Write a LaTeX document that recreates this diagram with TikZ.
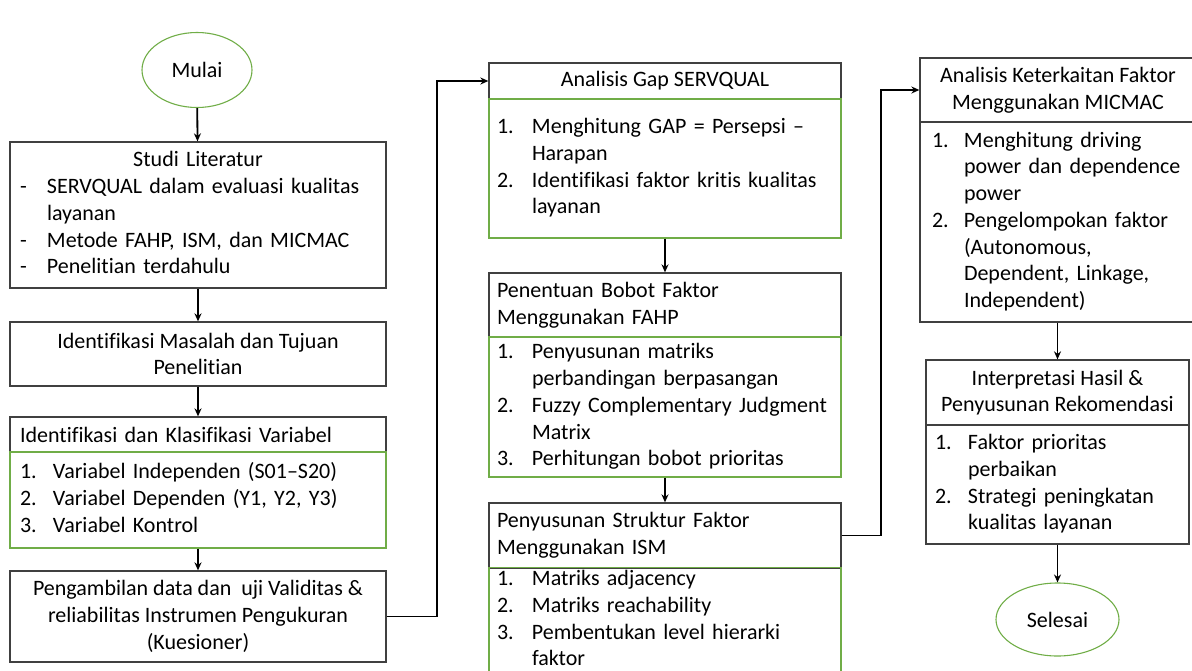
\documentclass[tikz,border=0pt]{standalone}
\usepackage{fontspec}
\setmainfont{Carlito}[Ligatures=NoCommon]
\usepackage{array}
\usetikzlibrary{positioning,arrows,arrows.meta,shapes.geometric}

\definecolor{garis}{HTML}{404040}
\definecolor{hijau}{HTML}{70AD47}

\tikzset{
    kotak/.style={draw=garis,line width=1.3pt,rectangle,inner ysep=0pt,inner xsep=10pt,font=\fontsize{22}{26.7}\selectfont},
    isi/.style={kotak,draw=hijau,line width=1.1pt},
    oval/.style={draw=hijau,line width=1.1pt,ellipse,inner sep=0pt,font=\fontsize{22}{26.7}\selectfont},
    panah/.style={->,line width=1.8pt,>={Stealth[length=8pt,width=7pt]}}
}

\begin{document}
\begin{tikzpicture}[x=1pt,y=-1pt]
        \useasboundingbox (0,0) rectangle (1192,670);
        % kolom kiri
        \node[oval,minimum width=110pt,minimum height=75pt] at (197,70) (mulai) {Mulai};
        \node[kotak,minimum width=376pt,minimum height=146pt,text width=356pt,align=left] at (198,215) (studi)
            {\begin{tabular}{@{}p{27pt}@{}p{329pt}@{}}\multicolumn{2}{@{}c@{}}{Studi Literatur}\\
             - & SERVQUAL dalam evaluasi kualitas\\ & layanan\\ - & Metode FAHP, ISM, dan MICMAC\\ - & Penelitian terdahulu\end{tabular}};
        \node[kotak,minimum width=376pt,minimum height=64pt,align=center] at (198,354) (masalah) {Identifikasi Masalah dan Tujuan\\Penelitian};
        \node[kotak,minimum width=376pt,minimum height=35pt,text width=356pt,align=left] at (198,434.5) (varjudul) {Identifikasi dan Klasifikasi Variabel};
        \node[isi,minimum width=376pt,minimum height=96pt,text width=356pt,align=left] at (198,500) (varisi)
            {\begin{tabular}{@{}p{33pt}@{}l@{}}1. & Variabel Independen (S01–S20)\\ 2. & Variabel Dependen (Y1, Y2, Y3)\\ 3. & Variabel Kontrol\end{tabular}};
        \node[kotak,minimum width=376pt,minimum height=91pt,align=center] at (198,616.5) (ambil) {Pengambilan data dan\ \ uji Validitas \&\\reliabilitas Instrumen Pengukuran\\(Kuesioner)};
        % kolom tengah
        \node[kotak,minimum width=352pt,minimum height=36pt,align=center] at (665,81) (gapjudul) {Analisis Gap SERVQUAL};
        \node[isi,minimum width=352pt,minimum height=139pt,inner xsep=8pt,text width=336pt,align=left] at (665,168.5) (gapisi)
            {\begin{tabular}{@{}p{35pt}@{}l@{}}1. & Menghitung GAP = Persepsi –\\ & Harapan\\ 2. & Identifikasi faktor kritis kualitas\\ & layanan\end{tabular}};
        \node[kotak,minimum width=352pt,minimum height=64pt,inner xsep=8pt,text width=336pt,align=left] at (665,305) (bobotjudul) {Penentuan Bobot Faktor\\Menggunakan FAHP};
        \node[isi,minimum width=352pt,minimum height=140pt,inner xsep=8pt,text width=336pt,align=left] at (665,407) (bobotisi)
            {\begin{tabular}{@{}p{35pt}@{}l@{}}1. & Penyusunan matriks\\ & perbandingan berpasangan\\ 2. & Fuzzy Complementary Judgment\\ & Matrix\\ 3. & Perhitungan bobot prioritas\end{tabular}};
        \node[kotak,minimum width=352pt,minimum height=65pt,inner xsep=8pt,text width=336pt,align=left] at (665,535.5) (ismjudul) {Penyusunan Struktur Faktor\\Menggunakan ISM};
        \node[isi,minimum width=352pt,minimum height=105pt,inner xsep=8pt,text width=336pt,align=left] at (665,620.5) (ismisi)
            {\begin{tabular}{@{}p{35pt}@{}l@{}}1. & Matriks adjacency\\ 2. & Matriks reachability\\ 3. & Pembentukan level hierarki\\ & faktor\end{tabular}};
        % kolom kanan
        \node[kotak,minimum width=276pt,minimum height=64pt,align=center] at (1058,90) (micmacjudul) {Analisis Keterkaitan Faktor\\Menggunakan MICMAC};
        \node[kotak,minimum width=276pt,minimum height=200pt,inner xsep=12pt,text width=252pt,align=left] at (1058,222) (micmacisi)
            {\begin{tabular}{@{}p{32pt}@{}l@{}}1. & Menghitung driving\\ & power dan dependence\\ & power\\ 2. & Pengelompokan faktor\\ & (Autonomous,\\ & Dependent, Linkage,\\ & Independent)\end{tabular}};
        \node[kotak,minimum width=263pt,minimum height=65pt,align=center] at (1057.5,392.5) (tafsirjudul) {Interpretasi Hasil \&\\Penyusunan Rekomendasi};
        \node[kotak,minimum width=263pt,minimum height=119pt,inner xsep=9pt,text width=245pt,align=left] at (1057.5,484.5) (tafsirisi)
            {\begin{tabular}{@{}p{33pt}@{}l@{}}1. & Faktor prioritas\\ & perbaikan\\ 2. & Strategi peningkatan\\ & kualitas layanan\end{tabular}};
        \node[oval,minimum width=123pt,minimum height=73pt] at (1057.5,619.5) (selesai) {Selesai};
        \coordinate (belok1) at (437,616.5);
        \coordinate (belok2) at (881,535.5);
        \path[panah]
        (mulai) edge (studi)
        (studi) edge (masalah)
        (masalah) edge (varjudul)
        (varisi) edge (ambil)
        (gapisi) edge (bobotjudul)
        (bobotisi) edge (ismjudul)
        (micmacisi.south -| tafsirjudul.north) edge (tafsirjudul)
        (tafsirisi) edge (selesai)
        ;
        \draw[panah] (ambil.east) -- (belok1) |- (gapjudul.west);
        \draw[panah] (ismjudul.east) -- (belok2) |- (micmacjudul.west);
    \end{tikzpicture}
\end{document}
